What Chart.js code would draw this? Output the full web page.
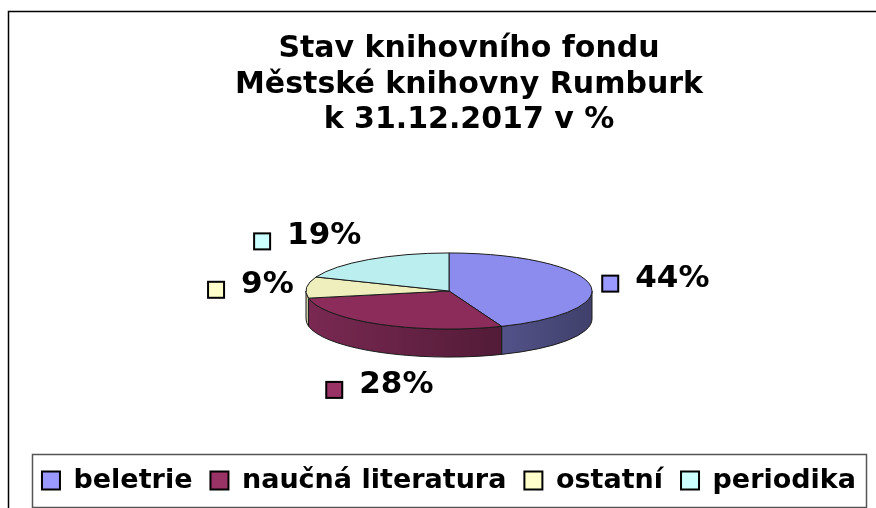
<!DOCTYPE html>
<html lang="cs">
<head>
<meta charset="utf-8">
<title>Stav knihovního fondu</title>
<script src="https://cdn.jsdelivr.net/npm/chart.js@4.4.1/dist/chart.umd.min.js"></script>
<style>
  html, body { margin: 0; padding: 0; background: #fff; }
  canvas { display: block; }
</style>
</head>
<body>
<canvas id="graf" width="876" height="508"></canvas>
<script>
// data
const kategorie = ['beletrie', 'naučná literatura', 'ostatní', 'periodika'];
const hodnoty = [44, 28, 9, 19];
const nadpis = ['Stav knihovního fondu', 'Městské knihovny Rumburk', 'k 31.12.2017 v %'];

// barvy (legenda a horni plocha kolace)
const barvyLegenda = ['#9999ff', '#993366', '#ffffcc', '#ccffff'];
const barvyVrch = ['#8c8cee', '#8b2c5b', '#efefbe', '#bbeeee'];

const FONT = '"DejaVu Sans", Verdana, sans-serif';
const SKLON = 0.266;    // vyska elipsy / sirka
const HLOUBKA = 0.196;  // vyska boku / polomer

function ztmav(hex, f) {
    const n = parseInt(hex.slice(1), 16);
    const r = Math.round(((n >> 16) & 255) * f);
    const g = Math.round(((n >> 8) & 255) * f);
    const b = Math.round((n & 255) * f);
    return `rgb(${r},${g},${b})`;
}

// 3D kolac - boky a horni plocha z oblouku, ktere spocital Chart.js
const kolac3d = {
    id: 'kolac3d',
    beforeDatasetsDraw(chart) {
        const ctx = chart.ctx;
        const arcs = chart.getDatasetMeta(0).data;
        if (!arcs.length) return false;
        const cx = arcs[0].x, cy = arcs[0].y, rx = arcs[0].outerRadius;
        const ry = rx * SKLON, h = rx * HLOUBKA;
        ctx.save();
        ctx.lineWidth = 1;
        ctx.strokeStyle = '#1c1c1c';
        // boky (jen predni polovina)
        arcs.forEach((arc, i) => {
            const a1 = Math.max(arc.startAngle, 0);
            const a2 = Math.min(arc.endAngle, Math.PI);
            if (a2 <= a1) return;
            const g = ctx.createLinearGradient(cx - rx, 0, cx + rx, 0);
            g.addColorStop(0, ztmav(barvyLegenda[i], 0.8));
            g.addColorStop(1, ztmav(barvyLegenda[i], 0.42));
            ctx.beginPath();
            ctx.ellipse(cx, cy, rx, ry, 0, a1, a2);
            ctx.ellipse(cx, cy + h, rx, ry, 0, a2, a1, true);
            ctx.closePath();
            ctx.fillStyle = g;
            ctx.fill();
            ctx.stroke();
        });
        // horni plocha
        arcs.forEach((arc) => {
            ctx.beginPath();
            ctx.moveTo(cx, cy);
            ctx.ellipse(cx, cy, rx, ry, 0, arc.startAngle, arc.endAngle);
            ctx.closePath();
            ctx.fillStyle = arc.options.backgroundColor;
            ctx.fill();
            ctx.stroke();
        });
        ctx.restore();
        return false;
    }
};

const ramecek = {
    id: 'ramecek',
    beforeDraw(chart) {
        const ctx = chart.ctx;
        ctx.save();
        ctx.fillStyle = '#fff';
        ctx.fillRect(0, 0, chart.width, chart.height);
        ctx.strokeStyle = '#000';
        ctx.lineWidth = 1.5;
        ctx.strokeRect(8.5, 11.5, chart.width + 20, chart.height + 20);
        ctx.restore();
    },
    afterDraw(chart) {
        const ctx = chart.ctx;
        ctx.save();

        // nadpis
        ctx.font = `bold 30px ${FONT}`;
        ctx.fillStyle = '#000';
        ctx.textAlign = 'center';
        ctx.textBaseline = 'alphabetic';
        nadpis.forEach((radek, i) => ctx.fillText(radek, 469, 57 + i * 35.5));

        // ramecek legendy
        const hb = chart.legend.legendHitBoxes;
        if (hb && hb.length) {
            const posl = hb[hb.length - 1];
            const l = hb[0].left - 10, r = posl.left + posl.width + 10;
            const t = hb[0].top - 13, b = hb[0].top + hb[0].height + 13;
            ctx.strokeStyle = '#555';
            ctx.lineWidth = 1.5;
            ctx.strokeRect(Math.round(l) + 0.5, Math.round(t) + 0.5, Math.round(r - l), Math.round(b - t));
        }

        // popisky s procenty
        const arcs = chart.getDatasetMeta(0).data;
        ctx.font = `bold 31px ${FONT}`;
        ctx.textAlign = 'left';
        ctx.textBaseline = 'middle';
        arcs.forEach((arc, i) => {
            const cx = arc.x, cy = arc.y, rx = arc.outerRadius;
            const ry = rx * SKLON, h = rx * HLOUBKA;
            const stred = (arc.startAngle + arc.endAngle) / 2;
            const c = Math.cos(stred), s = Math.sin(stred);
            const ax = cx + (rx + 13) * c;
            const ay = cy + (ry + 28) * s + (s > 0 ? h + 8 : 0);
            const text = hodnoty[i] + '%';
            const w = 33 + ctx.measureText(text).width;
            const left = c > 0.5 ? ax : (c < -0.5 ? ax - w : ax - w / 2 + 6);
            ctx.fillStyle = barvyLegenda[i];
            ctx.fillRect(left, ay - 3, 16, 16);
            ctx.lineWidth = 2;
            ctx.strokeStyle = '#000';
            ctx.strokeRect(left, ay - 3, 16, 16);
            ctx.fillStyle = '#000';
            ctx.fillText(text, left + 33, ay);
        });
        ctx.restore();
    }
};

new Chart(document.getElementById('graf').getContext('2d'), {
    type: 'pie',
    data: {
        labels: kategorie,
        datasets: [{
            data: hodnoty,
            backgroundColor: barvyVrch,
            borderColor: '#1c1c1c',
            borderWidth: 1,
            radius: 143
        }]
    },
    options: {
        responsive: false,
        animation: false,
        events: [],
        layout: {
            padding: { left: 22, right: 0, top: 133, bottom: 4 }
        },
        plugins: {
            title: { display: false },
            tooltip: { enabled: false },
            legend: {
                position: 'bottom',
                labels: {
                    color: '#000',
                    font: { family: FONT, size: 27, weight: 'bold' },
                    boxWidth: 18,
                    boxHeight: 18,
                    padding: 18,
                    generateLabels: () => kategorie.map((k, i) => ({
                        text: k,
                        fillStyle: barvyLegenda[i],
                        strokeStyle: '#000',
                        lineWidth: 2,
                        hidden: false,
                        index: i
                    }))
                }
            }
        }
    },
    plugins: [ramecek, kolac3d]
});
</script>
</body>
</html>
